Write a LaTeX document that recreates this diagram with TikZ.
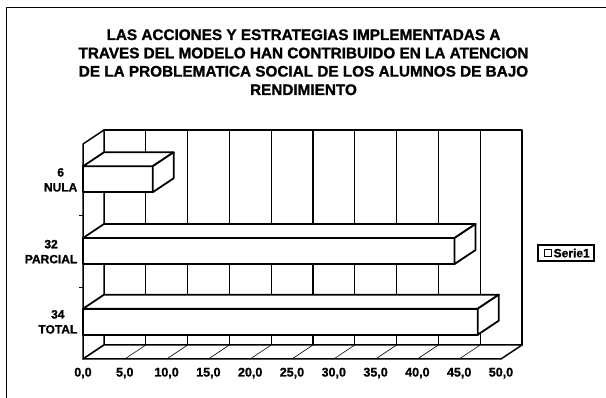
\documentclass[tikz,border=0pt]{standalone}
\usepackage{fontspec}
\setmainfont{Liberation Sans}[BoldFeatures={FakeBold=1.2}]
\begin{document}
\begin{tikzpicture}[x=1pt,y=-1pt,
  wall/.style={draw=black, line width=1.5pt, fill=white, line join=round},
  gridline/.style={draw=black, line width=1.1pt},
  floorgrid/.style={draw=black, line width=0.6pt},
  barbox/.style={draw=black, line width=1.8pt, fill=white, line join=round},
  catlabel/.style={font=\bfseries\fontsize{12}{14}\selectfont, inner sep=0pt},
  ticklabel/.style={font=\bfseries\fontsize{12.5}{14}\selectfont, inner sep=0pt, anchor=base},
  titleline/.style={font=\bfseries\fontsize{15.3}{18}\selectfont, inner sep=0pt, anchor=base},
  legendtext/.style={font=\bfseries\fontsize{12}{13}\selectfont, inner sep=0pt, anchor=base west}]
\useasboundingbox (0,0) rectangle (606,398);
\fill[white] (0,0) rectangle (606,398);
% outer frame
\draw[line width=0.9pt] (6,398) -- (6,7.5) -- (606,7.5);
% title
\node[titleline] (t1) at (303.5,40) {LAS ACCIONES Y ESTRATEGIAS IMPLEMENTADAS A};
\node[titleline] (t2) at (303.5,58.3) {TRAVES DEL MODELO HAN CONTRIBUIDO EN LA ATENCION};
\node[titleline] (t3) at (303.5,76.6) {DE LA PROBLEMATICA SOCIAL DE LOS ALUMNOS DE BAJO};
\node[titleline] (t4) at (303.5,95) {RENDIMIENTO};
% back wall
\draw[wall] (104,130) rectangle (522,345);
\foreach \k in {1,...,9} \draw[gridline] ({104+41.8*\k},130) -- ({104+41.8*\k},345);
% left wall
\draw[wall] (83,144) -- (104,130) -- (104,345) -- (83,359) -- cycle;
\draw[gridline] (79,215.7) -- (83,215.7);
\draw[gridline] (79,287.3) -- (83,287.3);
% floor
\draw[wall] (83,359) -- (104,345) -- (522,345) -- (501,359) -- cycle;
\foreach \k in {1,...,9} \draw[floorgrid] ({83+41.8*\k},359) -- ({104+41.8*\k},345);
% bars
\foreach \c/\v in {179.3/8.333, 251/44.444, 321.7/47.222} {
  \pgfmathsetmacro\xe{83+8.36*\v}
  \pgfmathsetmacro\yt{\c-13}
  \pgfmathsetmacro\yb{\c+13}
  \draw[barbox] (83,\yt) rectangle (\xe,\yb);
  \draw[barbox] (83,\yt) -- (104,{\yt-14}) -- ({\xe+21},{\yt-14}) -- (\xe,\yt) -- cycle;
  \draw[barbox] (\xe,\yt) -- ({\xe+21},{\yt-14}) -- ({\xe+21},{\yb-14}) -- (\xe,\yb) -- cycle;
}
% category labels
\node[catlabel, anchor=base east] (nula) at (77.5,191.5) {NULA};
\node[catlabel, anchor=base] (v6) at ([yshift=15pt]nula.base) {6};
\node[catlabel, anchor=base east] (parcial) at (77.5,263.3) {PARCIAL};
\node[catlabel, anchor=base] (v32) at ([yshift=15pt]parcial.base) {32};
\node[catlabel, anchor=base east] (total) at (77.5,333.5) {TOTAL};
\node[catlabel, anchor=base] (v34) at ([yshift=15pt]total.base) {34};
% tick labels
\foreach \k in {0,...,10} {
  \pgfmathtruncatemacro\val{5*\k}
  \node[ticklabel] (tk\k) at ({83+41.8*\k},376.5) {\val,0};
}
% legend
\draw[line width=1.3pt] (538,245) rectangle (594,261);
\draw[line width=1pt] (544.5,250) rectangle (551,256.5);
\node[legendtext] (serie) at (553.5,257.3) {Serie1};
\end{tikzpicture}
\end{document}
